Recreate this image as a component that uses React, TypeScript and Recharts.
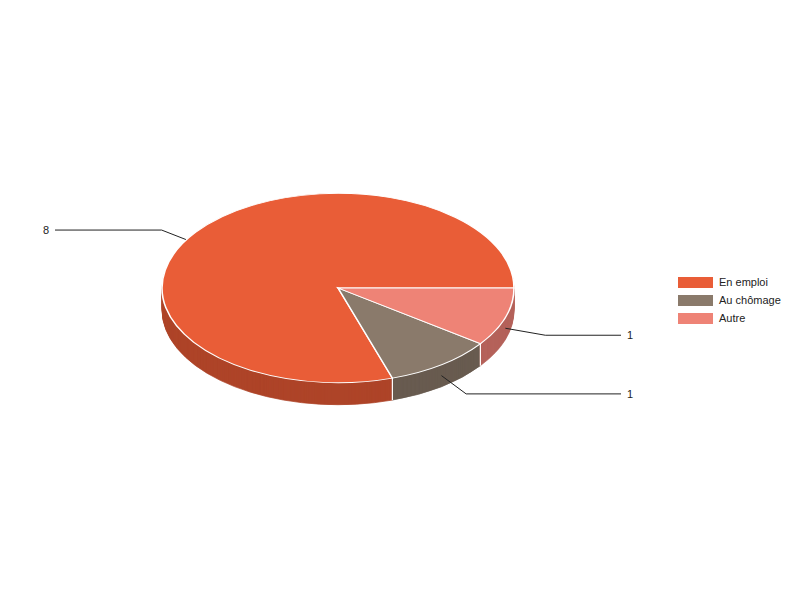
import { PieChart, Pie, Cell, Legend } from 'recharts'

const categories = ['En emploi', 'Au chômage', 'Autre']
const values = [8, 1, 1]
const topColors = ['#e95d37', '#8a7a6b', '#ee8376']
const sideColors = ['#ae4428', '#685b50', '#b5625a']

const data = categories.map((name, i) => ({ name, value: values[i] }))

const W = 800
const H = 600
const CX = 338
const CY = 288
const RX = 176
const RY = 94.7
const K = RY / RX // vertical squash of the disc
const DEPTH = 22
const LEG = 107 // how far the label leaders run past the rim
const RAD = Math.PI / 180
const FONT = 'Arial, "Liberation Sans", sans-serif'

// depth offsets of the stacked side layers, deepest first
const layers = Array.from({ length: DEPTH }, (_, i) => DEPTH - i)

function renderLabel(p: any) {
  const { cx, cy, midAngle, endAngle, outerRadius, value } = p
  const c = Math.cos(midAngle * RAD)
  const s = Math.sin(midAngle * RAD)
  // leader starts on the visible rim, bends on a wider ellipse at mid depth
  const ar = s > 0 ? outerRadius + 12 : outerRadius
  const er = outerRadius + 42
  const ax = cx + ar * c
  const ay = cy - ar * K * s + DEPTH / 2
  const ex = cx + er * c
  const ey = cy - er * K * s + DEPTH / 2
  const right = c >= 0
  const lx = right ? cx + outerRadius + LEG : cx - outerRadius - LEG

  // white edge on the side wall where two slices meet
  const e = endAngle * RAD
  const bs = Math.sin(e)
  const bx = cx + outerRadius * Math.cos(e)
  const by = cy - outerRadius * K * bs

  return (
    <g>
      {bs < -0.01 && (
        <line x1={bx} y1={by} x2={bx} y2={by + DEPTH} stroke="#fff" strokeWidth={1.2} />
      )}
      <polyline
        points={`${ax},${ay} ${ex},${ey} ${lx},${ey}`}
        fill="none"
        stroke="#222"
        strokeWidth={1}
      />
      <text
        x={right ? lx + 6 : lx - 6}
        y={ey}
        textAnchor={right ? 'start' : 'end'}
        dominantBaseline="central"
        fontSize={11}
        fontFamily={FONT}
        fill="#222"
      >
        {value}
      </text>
    </g>
  )
}

function LegendBox() {
  return (
    <div style={{ fontFamily: FONT, fontSize: 11, color: '#222' }}>
      {categories.map((c, i) => (
        <div key={c} style={{ display: 'flex', alignItems: 'center', height: 18 }}>
          <span style={{ display: 'inline-block', width: 35, height: 11, background: topColors[i], marginRight: 6 }} />
          <span>{c}</span>
        </div>
      ))}
    </div>
  )
}

export default function App() {
  return (
    <div style={{ position: 'absolute', left: 0, top: 0, width: W, height: H, background: '#fff' }}>
      <div style={{
        position: 'absolute', left: 0, top: 0, width: W, height: H / K,
        transform: `scaleY(${K})`, transformOrigin: '0 0',
      }}>
        <PieChart width={W} height={H / K} margin={{ top: 0, right: 0, bottom: 0, left: 0 }}>
          {layers.map(d => (
            <Pie
              key={d}
              data={data}
              dataKey="value"
              nameKey="name"
              cx={CX}
              cy={CY / K + d / K}
              outerRadius={RX}
              startAngle={0}
              endAngle={360}
              stroke="none"
              isAnimationActive={false}
            >
              {data.map((_, i) => <Cell key={i} fill={sideColors[i]} stroke={sideColors[i]} strokeWidth={1} />)}
            </Pie>
          ))}
          <Pie
            data={data}
            dataKey="value"
            nameKey="name"
            cx={CX}
            cy={CY / K}
            outerRadius={RX}
            startAngle={0}
            endAngle={360}
            isAnimationActive={false}
          >
            {data.map((_, i) => <Cell key={i} fill={topColors[i]} stroke="#fff" strokeWidth={1.6} />)}
          </Pie>
        </PieChart>
      </div>
      <div style={{ position: 'absolute', left: 0, top: 0 }}>
        <PieChart width={W} height={H} margin={{ top: 0, right: 0, bottom: 0, left: 0 }}>
          <Pie
            data={data}
            dataKey="value"
            nameKey="name"
            cx={CX}
            cy={CY}
            outerRadius={RX}
            startAngle={0}
            endAngle={360}
            fill="transparent"
            stroke="none"
            label={renderLabel}
            labelLine={false}
            isAnimationActive={false}
          >
            {data.map((_, i) => <Cell key={i} fill="transparent" stroke="none" />)}
          </Pie>
          <Legend
            layout="vertical"
            align="right"
            verticalAlign="top"
            content={() => <LegendBox />}
            wrapperStyle={{ left: 678, top: 273, width: 'auto', right: 'auto' }}
          />
        </PieChart>
      </div>
    </div>
  )
}
